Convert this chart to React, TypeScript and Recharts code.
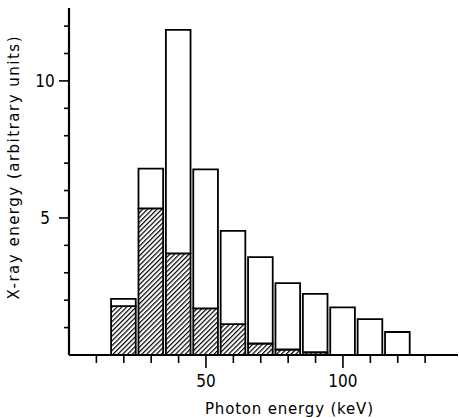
import { ComposedChart, Bar, XAxis, YAxis } from "recharts"

// photon energy bins (keV, bin centres, 10 keV wide)
const binCentres = [20, 30, 40, 50, 60, 70, 80, 90, 100, 110, 120]
// total X-ray energy per bin (open bars)
const totalEnergy = [2.05, 6.8, 11.86, 6.77, 4.53, 3.57, 2.62, 2.23, 1.74, 1.31, 0.84]
// hatched part of each bin
const hatchedEnergy = [1.78, 5.35, 3.71, 1.7, 1.13, 0.42, 0.2, 0.1, 0, 0, 0]

const xTicks = [10, 20, 30, 40, 50, 60, 70, 80, 90, 100, 110, 120, 130]
const xLabels = [50, 100]
const yTicks = [1, 2, 3, 4, 5, 6, 7, 8, 9, 10, 11, 12]
const yLabels = [5, 10]

const X_MAX = 142
const Y_MAX = 12.66
const BIN_WIDTH = 10

const W = 459
const H = 418
const LEFT = 69
const RIGHT = 1
const TOP = 8
const XAXIS_H = 63
const plotW = W - LEFT - RIGHT

// stacked: hatched at the bottom, the rest of the total above it
const data = binCentres.map((keV, i) => ({
  keV,
  hatched: hatchedEnergy[i],
  rest: totalEnergy[i] - hatchedEnergy[i],
}))

const tickFont = '"Liberation Sans Narrow", "DejaVu Sans Condensed", "Liberation Sans", sans-serif'
const titleFont = '"DejaVu Sans", sans-serif'

const YTick = (props: any) => {
  const { x, y, payload } = props
  const major = yLabels.includes(payload.value)
  return (
    <g>
      <line x1={x} x2={x - (major ? 10 : 5)} y1={y} y2={y} stroke="#000" strokeWidth={1.6} />
      {major && (
        <text x={x - 24} y={y} dy={6} textAnchor="middle" fontFamily={tickFont} fontSize={17} fill="#000">
          {payload.value}
        </text>
      )}
    </g>
  )
}

const XTick = (props: any) => {
  const { x, y, payload } = props
  const major = xLabels.includes(payload.value)
  return (
    <g>
      <line x1={x} x2={x} y1={y} y2={y + (major ? 13 : 8)} stroke="#000" strokeWidth={1.6} />
      {major && (
        <text x={x} y={y + 32} textAnchor="middle" fontFamily={tickFont} fontSize={17} fill="#000">
          {payload.value}
        </text>
      )}
    </g>
  )
}

const XTitle = (props: any) => {
  const { viewBox } = props
  return (
    <text
      x={viewBox.x + 220}
      y={viewBox.y + 59}
      textAnchor="middle"
      fontFamily={titleFont}
      fontSize={15}
      textLength={168}
      lengthAdjust="spacing"
      fill="#000"
    >
      Photon energy (keV)
    </text>
  )
}

const YTitle = (props: any) => {
  const cx = 19
  const cy = 168
  return (
    <text
      x={cx}
      y={cy}
      transform={`rotate(-90 ${cx} ${cy})`}
      textAnchor="middle"
      fontFamily={titleFont}
      fontSize={15}
      textLength={263}
      lengthAdjust="spacing"
      fill="#000"
    >
      X-ray energy (arbitrary units)
    </text>
  )
}

export default function App() {
  return (
    <div style={{ position: "absolute", left: 0, top: 0, background: "#fff" }}>
      <ComposedChart
        width={W}
        height={H}
        data={data}
        margin={{ top: TOP, right: RIGHT, bottom: 0, left: 0 }}
        barCategoryGap={0}
        barGap={0}
      >
        <defs>
          <pattern id="hatch" width="3.4" height="3.4" patternUnits="userSpaceOnUse" patternTransform="rotate(45)">
            <rect width="3.4" height="3.4" fill="#fff" />
            <line x1="0.6" y1="0" x2="0.6" y2="3.4" stroke="#000" strokeWidth="1.2" />
          </pattern>
        </defs>
        <XAxis
          dataKey="keV"
          type="number"
          domain={[0, X_MAX]}
          ticks={xTicks}
          interval={0}
          allowDataOverflow
          height={XAXIS_H}
          tickSize={0}
          tickMargin={0}
          tickLine={false}
          tick={<XTick />}
          axisLine={{ stroke: "#000", strokeWidth: 2.2 }}
          label={<XTitle />}
        />
        <YAxis
          type="number"
          domain={[0, Y_MAX]}
          ticks={yTicks}
          interval={0}
          allowDataOverflow
          width={LEFT}
          tickSize={0}
          tickMargin={0}
          tickLine={false}
          tick={<YTick />}
          axisLine={{ stroke: "#000", strokeWidth: 2.2 }}
          label={<YTitle />}
        />
        <Bar
          dataKey="hatched"
          stackId="e"
          fill="url(#hatch)"
          stroke="#000"
          strokeWidth={1.8}
          barSize={(BIN_WIDTH * plotW) / X_MAX}
          isAnimationActive={false}
        />
        <Bar
          dataKey="rest"
          stackId="e"
          fill="#fff"
          stroke="#000"
          strokeWidth={1.8}
          barSize={(BIN_WIDTH * plotW) / X_MAX}
          isAnimationActive={false}
        />
      </ComposedChart>
    </div>
  )
}
